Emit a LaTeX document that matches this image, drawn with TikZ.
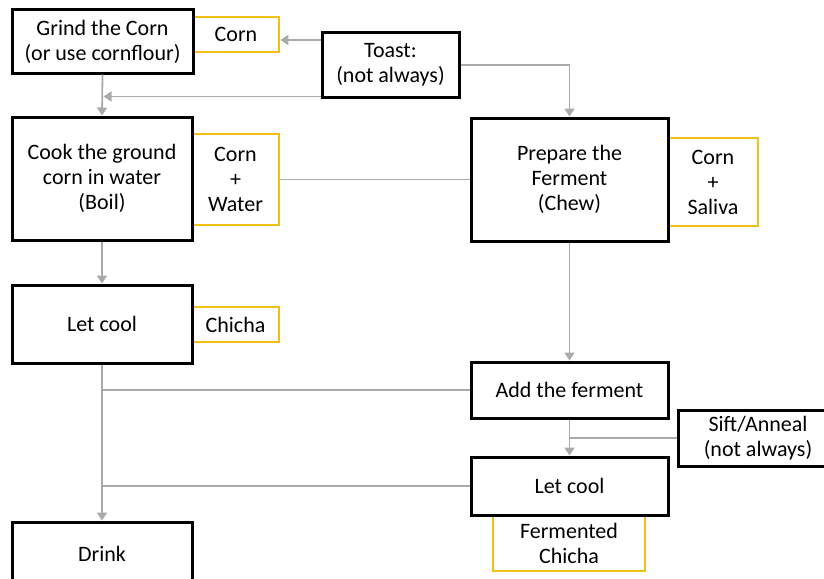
\documentclass[tikz,border=0pt]{standalone}
\usepackage{fontspec}
\setmainfont{Carlito}
\usetikzlibrary{arrows.meta}

\definecolor{flowgray}{RGB}{170,170,170}
\definecolor{tagyellow}{RGB}{240,192,20}

\begin{document}
\begin{tikzpicture}[x=1pt, y=-1pt,
    box/.style={draw=black, line width=3pt, fill=white, align=center, inner sep=0pt},
    tag/.style={draw=tagyellow, line width=2.6pt, fill=white, align=center, inner sep=0pt},
    flow/.style={draw=flowgray, line width=1.8pt, -{Triangle[width=10pt,length=8pt]}},
    link/.style={draw=flowgray, line width=1.8pt},
    font=\fontsize{22}{25}\selectfont]

    % Fix the page size
    \useasboundingbox (0,0) rectangle (824,578);

    % Draw the yellow tags (behind the boxes)
    \node[tag, minimum width=86pt, minimum height=35pt] (corn) at (236,34.5) {Corn};
    \node[tag, minimum width=87pt, minimum height=91pt] (cornwater) at (235.5,179.5) {Corn\\+\\Water};
    \node[tag, minimum width=87pt, minimum height=35pt] (chicha) at (235.5,324.5) {Chicha};
    \node[tag, minimum width=90pt, minimum height=88pt] (cornsaliva) at (713,182) {Corn\\+\\Saliva};
    \node[tag, minimum width=152pt, minimum height=56pt] (fermchicha) at (569,543) {Fermented\\Chicha};

    % Draw the steps on the left
    \node[box, minimum width=181pt, minimum height=63pt] (grind) at (102.5,41.5) {Grind the Corn\\(or use cornflour)};
    \node[box, minimum width=180pt, minimum height=123pt] (cook) at (102,178.5) {Cook the ground\\corn in water\\(Boil)};
    \node[box, minimum width=180pt, minimum height=78pt] (cool) at (102,324) {Let cool};
    \node[box, minimum width=180pt, minimum height=64pt] (drink) at (102,554) {Drink};

    % Draw the steps on the right
    \node[box, minimum width=137pt, minimum height=64pt] (toast) at (390.5,65) {Toast:\\(not always)};
    \node[box, minimum width=197pt, minimum height=123pt] (prep) at (569.5,179.5) {Prepare the\\Ferment\\(Chew)};
    \node[box, minimum width=197pt, minimum height=56pt] (add) at (569.5,390) {Add the ferment};
    \node[box, minimum width=170pt, minimum height=56pt] (sift) at (763,438) {\hspace*{-10pt}Sift/Anneal\\\hspace*{-10pt}(not always)};
    \node[box, minimum width=197pt, minimum height=58pt] (cool2) at (569.5,486) {Let cool};

    % Toast branches
    \draw[flow] ([yshift=-5.5pt]corn.east -| toast.west) -- ([yshift=-5.5pt]corn.east);
    \draw[flow, shorten >=1pt] ([yshift=2pt]toast.south west) -- ([yshift=2pt]toast.south west -| grind.south);
    \draw[flow] (toast.east) -| (prep.north);

    % Left column
    \draw[flow] (grind.south) -- (cook.north);
    \draw[flow] (cook.south) -- (cool.north);
    \draw[flow] (cool.south) -- (drink.north);

    % Right column
    \draw[link] (cornwater.east) -- (prep.west);
    \draw[flow] (prep.south) -- (add.north);
    \draw[flow] (add.south) -- (cool2.north);
    \draw[link] (sift.west) -- (sift.west -| add.south);

    % Back to the left column
    \draw[link] (add.west) -- (add.west -| cool.south);
    \draw[link] (cool2.west) -- (cool2.west -| cool.south);

\end{tikzpicture}
\end{document}
